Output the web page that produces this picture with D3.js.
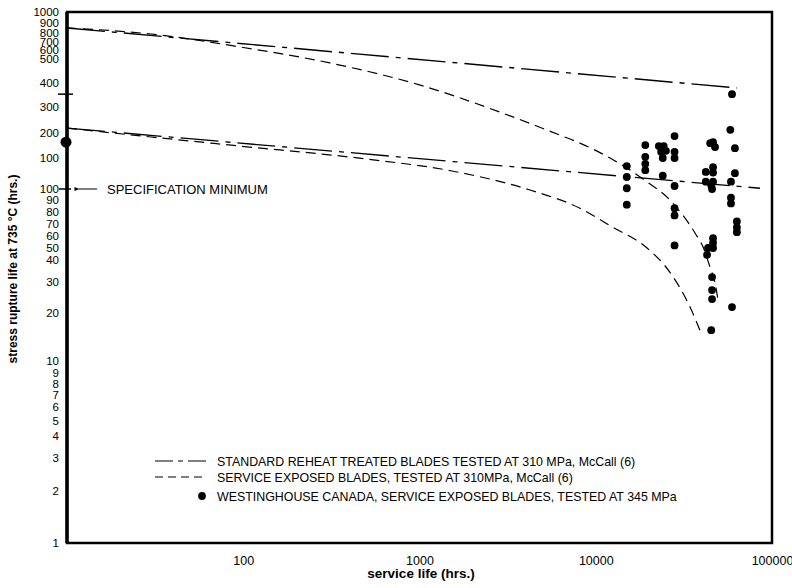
<!DOCTYPE html>
<html>
<head>
<meta charset="utf-8">
<script src="https://cdn.jsdelivr.net/npm/d3@7"></script>
<style>
  body { margin: 0; background: #fff; }
  text { font-family: "Liberation Sans", Arial, Helvetica, sans-serif; fill: #000; }
</style>
</head>
<body>
<div id="chart"></div>
<script>

// ---- data ----

// x axis ticks (service life, hrs.)
var xTicks = [100, 1000, 10000, 100000];

// y axis ticks as printed; the scan labels 150 as "100"
var yTicks = [1, 2, 3, 4, 5, 6, 7, 8, 9, 10, 20, 30, 40, 50, 60, 70, 80, 90, 100, 150, 200, 300, 400, 500, 600, 700, 800, 900, 1000];
var yTickLabels = ["1", "2", "3", "4", "5", "6", "7", "8", "9", "10", "20", "30", "40", "50", "60", "70", "80", "90", "100", "100", "200", "300", "400", "500", "600", "700", "800", "900", "1000"];

// standard reheat treated blades, 310 MPa (dash-dot)
var standardUpper = [[10, 849], [63200, 377]];
var standardLower = [[10, 216], [85500, 101]];

// service exposed blades, 310 MPa (dashed)
var serviceUpper = [[10, 849], [30, 788], [96, 636], [310, 482], [1000, 391], [2860, 277], [6270, 195],
  [8140, 178], [12050, 150], [18300, 115], [27100, 88], [36560, 62.4], [40600, 50.9], [44460, 36.5],
  [47540, 29.6], [49390, 23.7]];
var serviceLower = [[10, 216], [30, 191], [96, 172], [500, 148], [1500, 127], [4236, 99], [8140, 83],
  [12530, 67], [19540, 50], [26380, 34], [34270, 21.6], [39000, 15.6]];

// Westinghouse Canada, service exposed blades, 345 MPa
var westinghouse = [
  [15000, 135], [15000, 117], [15000, 101], [15000, 86],
  [19100, 174], [19100, 152], [19100, 139], [19100, 128],
  [22800, 172], [24300, 172], [23500, 161], [25000, 163], [24000, 150], [24000, 119],
  [28000, 193], [28000, 161], [28000, 150], [28000, 104], [28000, 83], [28000, 77], [28000, 52],
  [46300, 180], [44600, 178], [47500, 170], [46300, 133], [42100, 125], [46300, 124], [42100, 110],
  [46300, 110], [45200, 105], [45700, 100], [46300, 58], [46300, 54], [46300, 50], [43350, 50],
  [42800, 44], [45700, 32], [45700, 27], [45700, 24], [45200, 15.6],
  [58000, 210], [59300, 350], [61600, 168], [61600, 123], [58500, 110], [58500, 92], [58500, 87],
  [63200, 72], [63200, 67], [63200, 63], [59300, 21.6]
];

var axisPoint = [10, 180];
var specMinimum = 100;
var crossMark = 350;

var legendItems = [
  { label: "STANDARD REHEAT TREATED BLADES TESTED AT 310 MPa, McCall (6)", type: "dashdot" },
  { label: "SERVICE EXPOSED BLADES, TESTED AT 310MPa, McCall (6)", type: "dash" },
  { label: "WESTINGHOUSE CANADA, SERVICE EXPOSED BLADES, TESTED AT 345 MPa", type: "dot" }
];

// ---- layout ----
var width = 792, height = 588;
var margin = {top: 12, right: 772, bottom: 543, left: 67}; // frame edges in pixels

var svg = d3.select("#chart")
  .append("svg")
    .attr("width", width)
    .attr("height", height);

var x = d3.scaleLog()
  .domain([10, 100000])
  .range([margin.left, margin.right]);

// the printed y axis is not evenly spaced, so the scale is piecewise
// through the positions of the printed labels
var yPos = [543, 491, 458, 436, 421, 407, 395, 384, 373, 361, 313, 282, 260, 248, 236, 224, 212, 200, 189,
  158, 133, 107, 83, 59, 50, 42, 33, 23, 12];
var y = d3.scaleLog()
  .domain(yTicks)
  .range(yPos);

var dashDot = "38,7,5,7";
var dashed = "10,6";

// x axis labels
svg.append("g")
  .attr("transform", "translate(0," + margin.bottom + ")")
  .call(d3.axisBottom(x).tickValues(xTicks).tickSize(0).tickPadding(13).tickFormat(d3.format("d")))
  .call(function(g) { g.select(".domain").remove(); })
  .selectAll("text")
    .style("font-size", "12.5px");

// y axis labels
svg.append("g")
  .attr("transform", "translate(" + (margin.left - 8) + ",0)")
  .call(d3.axisLeft(y).tickValues(yTicks).tickSize(0).tickPadding(0)
    .tickFormat(function(d, i) { return yTickLabels[i]; }))
  .call(function(g) { g.select(".domain").remove(); })
  .selectAll("text")
    .style("font-size", "11.5px");

// tick marks at 100 and the cross mark
svg.append("line")
  .attr("x1", margin.left - 9).attr("x2", margin.left + 6)
  .attr("y1", y(crossMark)).attr("y2", y(crossMark))
  .attr("stroke", "black").attr("stroke-width", 1.5);
svg.append("line")
  .attr("x1", margin.left - 8).attr("x2", margin.left + 4)
  .attr("y1", y(specMinimum)).attr("y2", y(specMinimum))
  .attr("stroke", "black").attr("stroke-width", 1.5);

// frame
svg.append("rect")
  .attr("x", margin.left).attr("y", margin.top)
  .attr("width", margin.right - margin.left).attr("height", margin.bottom - margin.top)
  .attr("fill", "none")
  .attr("stroke", "black")
  .attr("stroke-width", 2.5);
svg.append("line")
  .attr("x1", margin.left).attr("x2", margin.left)
  .attr("y1", margin.top).attr("y2", margin.bottom)
  .attr("stroke", "black").attr("stroke-width", 3.5);

// curves
var line = d3.line()
  .x(function(d) { return x(d[0]); })
  .y(function(d) { return y(d[1]); });
var curve = d3.line()
  .x(function(d) { return x(d[0]); })
  .y(function(d) { return y(d[1]); })
  .curve(d3.curveMonotoneX);

svg.append("path").attr("d", line(standardUpper))
  .attr("fill", "none").attr("stroke", "black").attr("stroke-width", 1.4).attr("stroke-dasharray", dashDot);
svg.append("path").attr("d", line(standardLower))
  .attr("fill", "none").attr("stroke", "black").attr("stroke-width", 1.3).attr("stroke-dasharray", dashDot);
svg.append("path").attr("d", curve(serviceUpper))
  .attr("fill", "none").attr("stroke", "black").attr("stroke-width", 1.2).attr("stroke-dasharray", dashed);
svg.append("path").attr("d", curve(serviceLower))
  .attr("fill", "none").attr("stroke", "black").attr("stroke-width", 1.2).attr("stroke-dasharray", dashed);

// westinghouse points
svg.append("g")
  .selectAll("circle")
  .data(westinghouse)
  .enter().append("circle")
    .attr("cx", function(d) { return x(d[0]); })
    .attr("cy", function(d) { return y(d[1]); })
    .attr("r", 3.9)
    .attr("fill", "black");

svg.append("circle")
  .attr("cx", x(axisPoint[0]) - 1)
  .attr("cy", y(axisPoint[1]))
  .attr("r", 5.5)
  .attr("fill", "black");

// specification minimum arrow
svg.append("defs").append("marker")
    .attr("id", "arrow")
    .attr("viewBox", "0 0 10 10")
    .attr("refX", 1).attr("refY", 5)
    .attr("markerUnits", "userSpaceOnUse")
    .attr("markerWidth", 10).attr("markerHeight", 5)
    .attr("orient", "auto")
  .append("path")
    .attr("d", "M10,1 L0,5 L10,9 Z")
    .attr("fill", "black");
svg.append("line")
  .attr("x1", 97).attr("x2", 79)
  .attr("y1", y(specMinimum)).attr("y2", y(specMinimum))
  .attr("stroke", "black").attr("stroke-width", 1)
  .attr("marker-end", "url(#arrow)");
svg.append("text")
  .attr("x", 107).attr("y", y(specMinimum) + 4.5)
  .style("font-size", "13px")
  .text("SPECIFICATION MINIMUM");

// legend
var legend = svg.append("g");
var legendRows = [461, 477, 496];
legendItems.forEach(function(item, i) {
  var ly = legendRows[i];
  if (item.type === "dot") {
    legend.append("circle").attr("cx", 202).attr("cy", ly).attr("r", 3.9).attr("fill", "black");
  } else {
    legend.append("line")
      .attr("x1", 155).attr("x2", 206)
      .attr("y1", ly).attr("y2", ly)
      .attr("stroke", "black").attr("stroke-width", 1.2)
      .attr("stroke-dasharray", item.type === "dash" ? "8,5" : "18,5,5,5");
  }
  legend.append("text")
    .attr("x", 217).attr("y", ly + 4.5)
    .style("font-size", "12.4px")
    .text(item.label);
});

// axis titles
svg.append("text")
  .attr("x", 421).attr("y", 578)
  .attr("text-anchor", "middle")
  .style("font-size", "13.5px").style("font-weight", "bold")
  .text("service life (hrs.)");
svg.append("text")
  .attr("transform", "translate(17,269) rotate(-90)")
  .attr("text-anchor", "middle")
  .style("font-size", "12px").style("font-weight", "bold")
  .text("stress rupture life at 735 \u00b0C (hrs.)");

</script>
</body>
</html>
